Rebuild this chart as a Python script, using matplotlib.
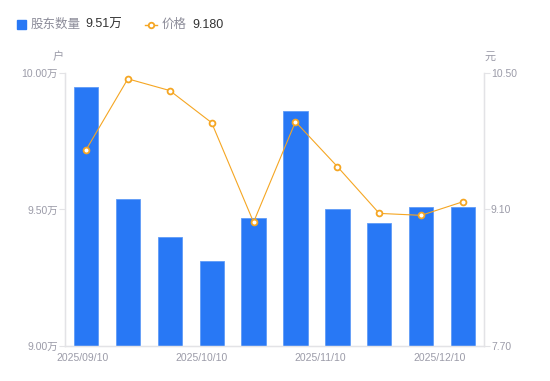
import numpy as np
import matplotlib
matplotlib.use('Agg')
from matplotlib import pyplot as plt
from matplotlib.patches import Rectangle
from matplotlib.lines import Line2D

plt.rcParams['font.family'] = ['Liberation Sans', 'Noto Sans CJK SC']

dates = ['2025/09/10', '2025/09/19', '2025/09/30', '2025/10/10', '2025/10/20',
         '2025/10/31', '2025/11/10', '2025/11/20', '2025/11/30', '2025/12/10']
holders = [9.95, 9.54, 9.40, 9.31, 9.47, 9.86, 9.50, 9.45, 9.51, 9.51]  # 万户
price = [9.71, 10.44, 10.32, 9.99, 8.97, 10.00, 9.54, 9.06, 9.04, 9.18]
date_labels = ['2025/09/10', '2025/10/10', '2025/11/10', '2025/12/10']
label_pos = [-0.09, 2.75, 5.59, 8.45]
left_ticks = [9.0, 9.5, 10.0]
right_ticks = [7.70, 9.10, 10.50]

blue = '#2878f5'
orange = '#f5a623'
grey = '#9b9ba8'
axcol = '#e3e3e6'

fig = plt.figure(figsize=(5.5, 3.81), dpi=100)
ax = fig.add_axes([0.1182, 0.0919, 0.7618, 0.7165])
ax2 = ax.twinx()

x = np.arange(len(dates))
ax.bar(x, np.array(holders) - 9.0, bottom=9.0, width=0.58, color=blue,
       edgecolor='#5f9bf7', linewidth=0.6, zorder=2)
ax.set_xlim(-0.5, len(dates) - 0.5)
ax.set_ylim(9.0, 10.0)
ax.set_yticks(left_ticks)
ax.set_yticklabels(['%.2f万' % v for v in left_ticks])
ax.set_xticks(label_pos)
ax.set_xticklabels(date_labels)
ax.tick_params(axis='x', length=0, pad=5, labelsize=7.5, colors=grey)
ax.tick_params(axis='y', length=4, width=0.8, pad=1, labelsize=7.5, colors=grey, color=axcol)

ax2.plot(x, price, color=orange, lw=0.8, marker='o', ms=4.2, mfc='white',
         mec=orange, mew=1.3, zorder=3)
ax2.set_ylim(7.70, 10.50)
ax2.set_yticks(right_ticks)
ax2.set_yticklabels(['%.2f' % v for v in right_ticks])
ax2.tick_params(axis='y', length=4, width=0.8, pad=1, labelsize=7.5, colors=grey, color=axcol)

for a in (ax, ax2):
    for s in a.spines.values():
        s.set_color(axcol)
        s.set_linewidth(0.9)
    a.spines['top'].set_visible(False)

fig.text(58 / 550, 1 - 57 / 381, '户', color=grey, fontsize=8, ha='center', va='center')
fig.text(490 / 550, 1 - 57 / 381, '元', color=grey, fontsize=8, ha='center', va='center')

# legend
fig.patches.append(Rectangle((17 / 550, 1 - 28.5 / 381), 8.5 / 550, 8.5 / 381,
                             transform=fig.transFigure, color=blue))
fig.text(31 / 550, 1 - 24.5 / 381, '股东数量', color='#8c8c99', fontsize=9, va='center')
fig.text(85 / 550, 1 - 24.5 / 381, '%.2f万' % holders[-1], color='#333333', fontsize=9, va='center')
fig.lines.append(Line2D([145 / 550, 157 / 550], [1 - 24.5 / 381] * 2, transform=fig.transFigure,
                        color=orange, lw=1))
fig.lines.append(Line2D([151 / 550], [1 - 24.5 / 381], transform=fig.transFigure,
                        color=orange, marker='o', ms=4, mfc='white', mew=1.3))
fig.text(162 / 550, 1 - 24.5 / 381, '价格', color='#8c8c99', fontsize=9, va='center')
fig.text(192 / 550, 1 - 24.5 / 381, '%.3f' % price[-1], color='#333333', fontsize=9, va='center')

plt.savefig('out.png', dpi=100)
